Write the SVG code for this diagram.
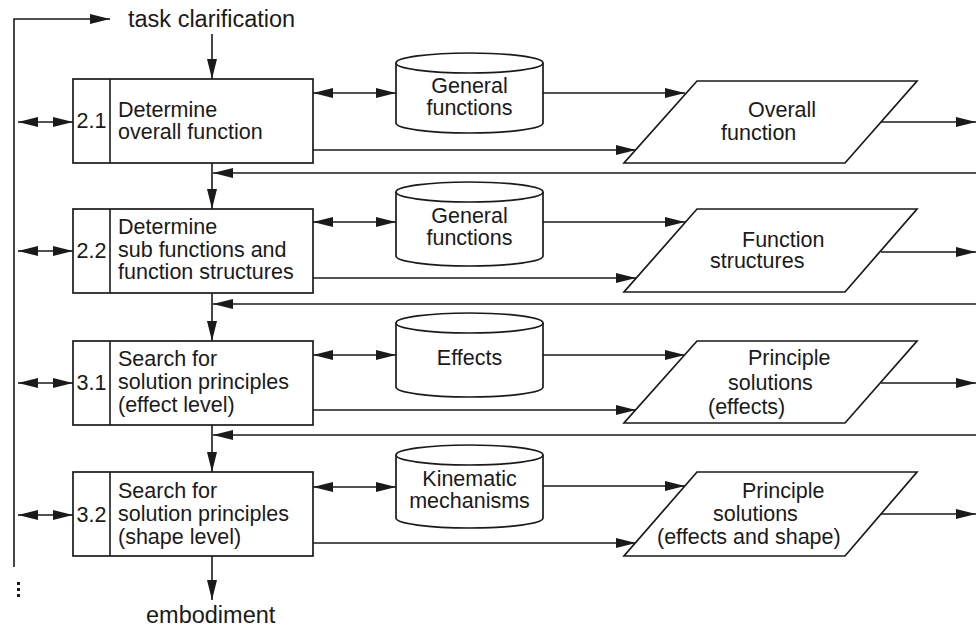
<svg xmlns="http://www.w3.org/2000/svg" width="976" height="628" viewBox="0 0 976 628">
  <defs>
    <marker id="ah" viewBox="0 0 20 10" refX="20" refY="5" markerWidth="20" markerHeight="10" markerUnits="userSpaceOnUse" orient="auto-start-reverse">
      <path d="M0,0 L20,5 L0,10 z" fill="#1a1a1a"/>
    </marker>
    <style>
      text { font-family: "Liberation Sans", Arial, sans-serif; font-size: 21.5px; fill: #1a1a1a; }
      .lbl { font-size: 23.5px; }
      .num { text-anchor: middle; }
      .mid { text-anchor: middle; }
      .shape { fill: #fff; stroke: #1a1a1a; stroke-width: 1.7; }
      .ln { fill: none; stroke: #1a1a1a; stroke-width: 1.6; }
      .arr { fill: none; stroke: #1a1a1a; stroke-width: 1.6; marker-end: url(#ah); }
      .dbl { fill: none; stroke: #1a1a1a; stroke-width: 1.6; marker-start: url(#ah); marker-end: url(#ah); }
    </style>
  </defs>

  <!-- connectors -->
  <g id="connectors">
    <!-- outer loop on the left -->
    <path class="arr" d="M14,567 L14,19 L110,19"/>
    <rect x="17" y="582" width="3" height="3" fill="#1a1a1a"/>
    <rect x="17" y="588" width="3" height="3" fill="#1a1a1a"/>
    <rect x="17" y="594" width="3" height="3" fill="#1a1a1a"/>

    <!-- main vertical flow -->
    <path class="arr" d="M212,34 L212,79"/>
    <path class="arr" d="M212,163 L212,209"/>
    <path class="arr" d="M212,293 L212,341"/>
    <path class="arr" d="M212,425 L212,472"/>
    <path class="arr" d="M212,556 L212,600"/>

    <!-- feedback lines from the right -->
    <path class="arr" d="M976,173 L213,173"/>
    <path class="arr" d="M976,304 L213,304"/>
    <path class="arr" d="M976,435 L213,435"/>

    <!-- left double arrows -->
    <path class="dbl" d="M18,122 L73,122"/>
    <path class="dbl" d="M18,251 L73,251"/>
    <path class="dbl" d="M18,383 L73,383"/>
    <path class="dbl" d="M18,515 L73,515"/>

    <!-- box to store double arrows -->
    <path class="dbl" d="M313,93 L396,93"/>
    <path class="dbl" d="M313,222 L396,222"/>
    <path class="dbl" d="M313,355 L396,355"/>
    <path class="dbl" d="M313,487 L396,487"/>

    <!-- store to result -->
    <path class="arr" d="M543,93 L685,93"/>
    <path class="arr" d="M543,222 L685,222"/>
    <path class="arr" d="M543,355 L685,355"/>
    <path class="arr" d="M543,486 L685,486"/>

    <!-- box to result -->
    <path class="arr" d="M313,150 L636,150"/>
    <path class="arr" d="M313,278 L636,278"/>
    <path class="arr" d="M313,410 L636,410"/>
    <path class="arr" d="M313,543 L636,543"/>

    <!-- result outputs -->
    <path class="arr" d="M881,122 L976,122"/>
    <path class="arr" d="M881,252 L976,252"/>
    <path class="arr" d="M881,383 L976,383"/>
    <path class="arr" d="M881,514 L976,514"/>
  </g>

  <!-- outer labels -->
  <g id="task-clarification">
    <text class="lbl" x="128" y="27">task clarification</text>
  </g>
  <g id="embodiment">
    <text class="lbl" x="146" y="623">embodiment</text>
  </g>

  <!-- working steps -->
  <g id="step-2-1">
    <rect class="shape" x="73" y="79" width="240" height="84"/>
    <line class="ln" x1="110" y1="79" x2="110" y2="163"/>
    <text class="num" x="91.5" y="128">2.1</text>
    <text x="118" y="117">Determine</text>
    <text x="118" y="139">overall function</text>
  </g>
  <g id="step-2-2">
    <rect class="shape" x="73" y="209" width="240" height="84"/>
    <line class="ln" x1="110" y1="209" x2="110" y2="293"/>
    <text class="num" x="91.5" y="258">2.2</text>
    <text x="118" y="234">Determine</text>
    <text x="118" y="257">sub functions and</text>
    <text x="118" y="279">function structures</text>
  </g>
  <g id="step-3-1">
    <rect class="shape" x="73" y="341" width="240" height="84"/>
    <line class="ln" x1="110" y1="341" x2="110" y2="425"/>
    <text class="num" x="91.5" y="390">3.1</text>
    <text x="118" y="366">Search for</text>
    <text x="118" y="389">solution principles</text>
    <text x="118" y="412">(effect level)</text>
  </g>
  <g id="step-3-2">
    <rect class="shape" x="73" y="472" width="240" height="84"/>
    <line class="ln" x1="110" y1="472" x2="110" y2="556"/>
    <text class="num" x="91.5" y="522">3.2</text>
    <text x="118" y="498">Search for</text>
    <text x="118" y="521">solution principles</text>
    <text x="118" y="544">(shape level)</text>
  </g>

  <!-- stores (cylinders) -->
  <g id="store-general-functions-1">
    <path class="shape" d="M396,63 L396,123 A73.5,10 0 0 0 543,123 L543,63"/>
    <ellipse class="shape" cx="469.5" cy="63" rx="73.5" ry="10"/>
    <text class="mid" x="469.5" y="93">General</text>
    <text class="mid" x="469.5" y="115">functions</text>
  </g>
  <g id="store-general-functions-2">
    <path class="shape" d="M396,192 L396,256 A73.5,10 0 0 0 543,256 L543,192"/>
    <ellipse class="shape" cx="469.5" cy="192" rx="73.5" ry="10"/>
    <text class="mid" x="469.5" y="223">General</text>
    <text class="mid" x="469.5" y="245">functions</text>
  </g>
  <g id="store-effects">
    <path class="shape" d="M396,323 L396,387 A73.5,10 0 0 0 543,387 L543,323"/>
    <ellipse class="shape" cx="469.5" cy="323" rx="73.5" ry="10"/>
    <text class="mid" x="469.5" y="365">Effects</text>
  </g>
  <g id="store-kinematic-mechanisms">
    <path class="shape" d="M396,455 L396,518 A73.5,10 0 0 0 543,518 L543,455"/>
    <ellipse class="shape" cx="469.5" cy="455" rx="73.5" ry="10"/>
    <text class="mid" x="469.5" y="486">Kinematic</text>
    <text class="mid" x="469.5" y="508">mechanisms</text>
  </g>

  <!-- results (parallelograms) -->
  <g id="result-overall-function">
    <polygon class="shape" points="697,81 917,81 845,163 624,163"/>
    <text x="748" y="117">Overall</text>
    <text x="721" y="140">function</text>
  </g>
  <g id="result-function-structures">
    <polygon class="shape" points="697,209 917,209 845,292 624,292"/>
    <text x="742" y="247">Function</text>
    <text x="710" y="268">structures</text>
  </g>
  <g id="result-principle-solutions-effects">
    <polygon class="shape" points="697,341 917,341 845,423 624,423"/>
    <text x="748" y="365">Principle</text>
    <text x="728" y="390">solutions</text>
    <text x="708" y="414">(effects)</text>
  </g>
  <g id="result-principle-solutions-shape">
    <polygon class="shape" points="697,472 917,472 845,556 624,556"/>
    <text x="742" y="498">Principle</text>
    <text x="713" y="521">solutions</text>
    <text x="657" y="544">(effects and shape)</text>
  </g>
</svg>
